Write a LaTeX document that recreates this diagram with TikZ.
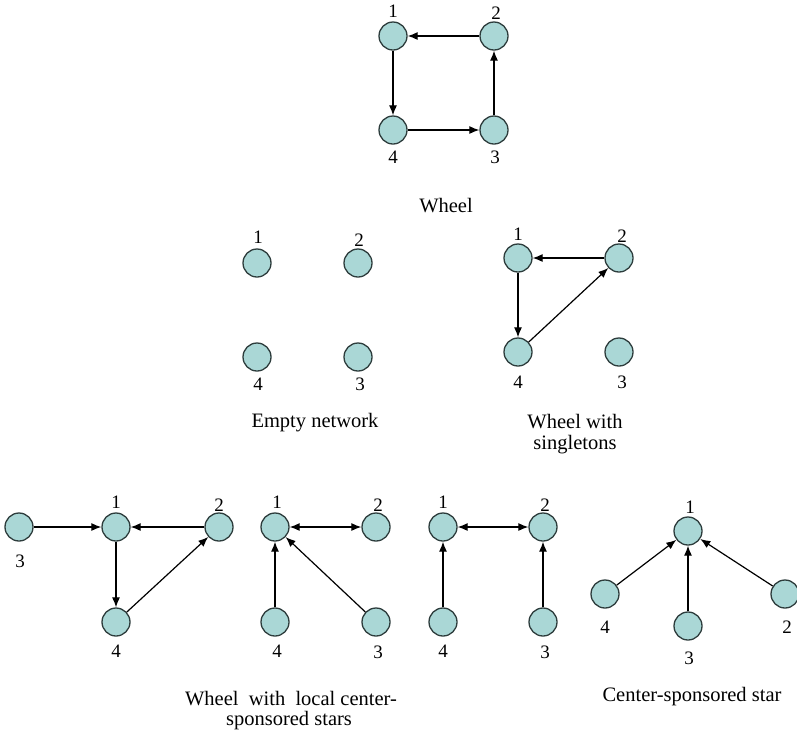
\documentclass[tikz,border=0pt]{standalone}
\usepackage{fontspec}
\setmainfont{Liberation Serif}
\usetikzlibrary{arrows.meta}
\definecolor{agentfill}{RGB}{170,215,214}
\definecolor{agentline}{RGB}{45,60,60}

\begin{document}
\begin{tikzpicture}[x=1pt,y=-1pt,
  agent/.style={circle,draw=agentline,fill=agentfill,line width=1.3pt,minimum size=28pt,inner sep=0pt},
  lbl/.style={font=\fontsize{19}{22}\selectfont,inner sep=0pt},
  title/.style={font=\fontsize{20.5}{24}\selectfont,inner sep=0pt},
  link/.style={line width=1.2pt,-{Latex[length=10pt,width=8pt]}},
  blink/.style={line width=1.2pt,{Latex[length=10pt,width=8pt]}-{Latex[length=10pt,width=8pt]}}]

\useasboundingbox (0,0) rectangle (797,740);

% wheel
\node[agent] (w1) at (393,36) {};
\node[agent] (w2) at (494,36) {};
\node[agent] (w3) at (494,130) {};
\node[agent] (w4) at (393,130) {};
\node[lbl] (w1l) at (393,11) {1};
\node[lbl] (w2l) at (496,13) {2};
\node[lbl] (w3l) at (495,157) {3};
\node[lbl] (w4l) at (393,157) {4};
\draw[link] (w2)--(w1);
\draw[link] (w1)--(w4);
\draw[link] (w4)--(w3);
\draw[link] (w3)--(w2);
\node[title] (wcap) at (446,206) {Wheel};

% empty network
\node[agent] (e1) at (257,263) {};
\node[agent] (e2) at (358,263) {};
\node[agent] (e3) at (358,357) {};
\node[agent] (e4) at (257,357) {};
\node[lbl] (e1l) at (258,237) {1};
\node[lbl] (e2l) at (359,240) {2};
\node[lbl] (e3l) at (360,384) {3};
\node[lbl] (e4l) at (258,384) {4};
\node[title] (ecap) at (315,423) {Empty network};

% wheel with singletons
\node[agent] (s1) at (518,258) {};
\node[agent] (s2) at (619,258) {};
\node[agent] (s3) at (619,352) {};
\node[agent] (s4) at (518,352) {};
\node[lbl] (s1l) at (518,234) {1};
\node[lbl] (s2l) at (622,236) {2};
\node[lbl] (s3l) at (622,382) {3};
\node[lbl] (s4l) at (518,382) {4};
\draw[link] (s2)--(s1);
\draw[link] (s1)--(s4);
\draw[link] (s4)--(s2);
\node[title] (scap1) at (575,422) {Wheel with};
\node[title] (scap2) at (575,445) {singletons};

% wheel with local center-sponsored stars
\node[agent] (a3) at (19,527) {};
\node[agent] (a1) at (116,527) {};
\node[agent] (a2) at (219,527) {};
\node[agent] (a4) at (116,622) {};
\node[lbl] (a3l) at (20,561) {3};
\node[lbl] (a1l) at (116,502) {1};
\node[lbl] (a2l) at (219,505) {2};
\node[lbl] (a4l) at (116,651) {4};
\draw[link] (a3)--(a1);
\draw[link] (a2)--(a1);
\draw[link] (a1)--(a4);
\draw[link] (a4)--(a2);

\node[agent] (b1) at (275,527) {};
\node[agent] (b2) at (376,527) {};
\node[agent] (b3) at (376,622) {};
\node[agent] (b4) at (275,622) {};
\node[lbl] (b1l) at (277,502) {1};
\node[lbl] (b2l) at (378,505) {2};
\node[lbl] (b3l) at (378,652) {3};
\node[lbl] (b4l) at (277,651) {4};
\draw[blink] (b1)--(b2);
\draw[link] (b4)--(b1);
\draw[link] (b3)--(b1);

\node[agent] (c1) at (443,527) {};
\node[agent] (c2) at (543,527) {};
\node[agent] (c3) at (543,622) {};
\node[agent] (c4) at (443,622) {};
\node[lbl] (c1l) at (443,502) {1};
\node[lbl] (c2l) at (545,505) {2};
\node[lbl] (c3l) at (545,652) {3};
\node[lbl] (c4l) at (443,651) {4};
\draw[blink] (c1)--(c2);
\draw[link] (c4)--(c1);
\draw[link] (c3)--(c2);

\node[title] (acap1) at (291,699) {Wheel\ \ with\ \ local center-};
\node[title] (acap2) at (289,721) {sponsored stars};

% center-sponsored star
\node[agent] (d1) at (688,531) {};
\node[agent] (d4) at (605,594) {};
\node[agent] (d3) at (688,626) {};
\node[agent] (d2) at (785,594) {};
\node[lbl] (d1l) at (690,507) {1};
\node[lbl] (d4l) at (605,627) {4};
\node[lbl] (d3l) at (689,658) {3};
\node[lbl] (d2l) at (787,627) {2};
\draw[link] (d4)--(d1);
\draw[link] (d3)--(d1);
\draw[link] (d2)--(d1);
\node[title] (dcap) at (692,697) {Center-sponsored star};

\end{tikzpicture}
\end{document}
